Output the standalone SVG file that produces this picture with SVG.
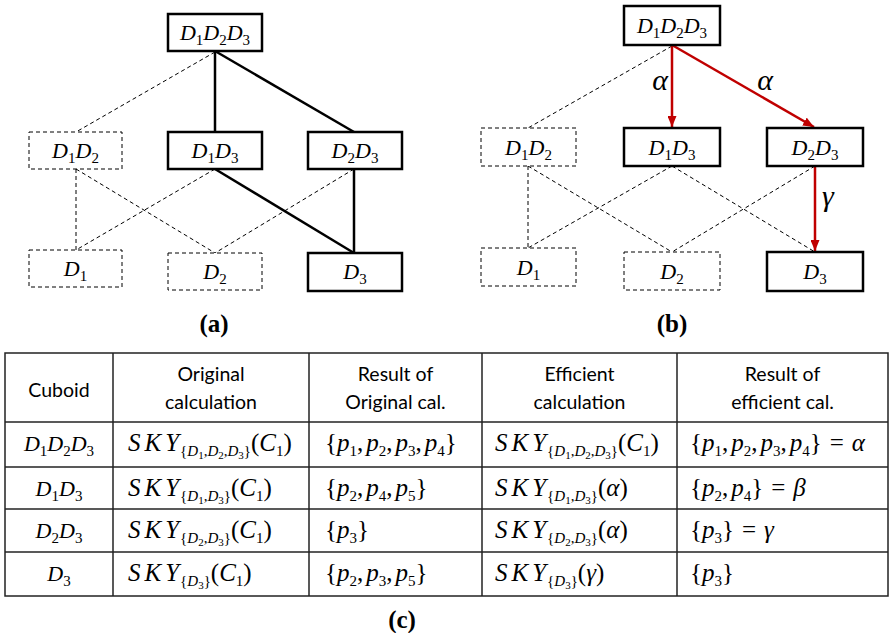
<svg xmlns="http://www.w3.org/2000/svg" width="889" height="633" viewBox="0 0 889 633">
<style>
.m{font-family:"Liberation Serif","DejaVu Serif",serif;font-size:22px;fill:#000}
.t{font-size:25px}
.i{font-style:italic}
.s{font-size:15px}
.ss{font-size:11px}
.h{font-family:"Lato","Liberation Sans",sans-serif;font-size:19.5px;text-anchor:middle;fill:#000}
.lbl{font-family:"Liberation Serif","DejaVu Serif",serif;font-size:25px;font-weight:bold;text-anchor:middle}
.gl{font-family:"Liberation Serif","DejaVu Serif",serif;font-size:30px;font-style:italic;text-anchor:middle}
.box{fill:#fff;stroke:#000;stroke-width:2.5}
.dbox{fill:#fff;stroke:#000;stroke-width:1;stroke-dasharray:4 3}
.sl{stroke:#000;stroke-width:2.5;fill:none}
.dl{stroke:#000;stroke-width:1;stroke-dasharray:4 3;fill:none}
.red{stroke:#c00000;stroke-width:2.5;fill:none;marker-end:url(#ah)}
.grid{stroke:#222;stroke-width:1.5;fill:none}
</style>
<defs>
<marker id="ah" markerWidth="11" markerHeight="9" refX="11" refY="4.5" orient="auto" markerUnits="userSpaceOnUse">
<path d="M0,0 L11,4.5 L0,9 Z" fill="#c00000"/>
</marker>
</defs>
<rect width="889" height="633" fill="#fff"/>

<g id="connectors">
<line class="dl" x1="215" y1="52" x2="76" y2="132"/>
<line class="sl" x1="215" y1="51" x2="215" y2="132"/>
<line class="sl" x1="215" y1="51" x2="354" y2="132"/>
<line class="dl" x1="76" y1="169" x2="76" y2="250"/>
<line class="dl" x1="76" y1="169" x2="215" y2="253"/>
<line class="dl" x1="215" y1="169" x2="76" y2="250"/>
<line class="sl" x1="215" y1="169" x2="354" y2="253"/>
<line class="dl" x1="354" y1="169" x2="215" y2="253"/>
<line class="sl" x1="354" y1="169" x2="354" y2="253"/>

<line class="dl" x1="672" y1="46" x2="528" y2="128"/>
<line class="red" x1="672" y1="45" x2="672" y2="127"/>
<line class="red" x1="672" y1="45" x2="814" y2="127"/>
<line class="dl" x1="528" y1="166" x2="528" y2="248"/>
<line class="dl" x1="528" y1="166" x2="672" y2="252"/>
<line class="dl" x1="672" y1="166" x2="528" y2="248"/>
<line class="dl" x1="672" y1="166" x2="815" y2="252"/>
<line class="dl" x1="815" y1="166" x2="672" y2="252"/>
<line class="red" x1="815" y1="166" x2="815" y2="251"/>
<text class="gl" x="660" y="90">α</text>
<text class="gl" x="765" y="90">α</text>
<text class="gl" x="828" y="206">γ</text>
</g>

<g id="a-D1D2D3"><rect class="box" x="168" y="14" width="94" height="37"/>
<text class="m" x="215" y="40" text-anchor="middle"><tspan class="i">D</tspan><tspan class="s" dy="5">1</tspan><tspan class="i" dy="-5">D</tspan><tspan class="s" dy="5">2</tspan><tspan class="i" dy="-5">D</tspan><tspan class="s" dy="5">3</tspan></text></g>
<g id="a-D1D2"><rect class="dbox" x="29" y="132" width="93" height="37"/>
<text class="m" x="75.5" y="158" text-anchor="middle"><tspan class="i">D</tspan><tspan class="s" dy="5">1</tspan><tspan class="i" dy="-5">D</tspan><tspan class="s" dy="5">2</tspan></text></g>
<g id="a-D1D3"><rect class="box" x="168" y="132" width="94" height="37"/>
<text class="m" x="215" y="158" text-anchor="middle"><tspan class="i">D</tspan><tspan class="s" dy="5">1</tspan><tspan class="i" dy="-5">D</tspan><tspan class="s" dy="5">3</tspan></text></g>
<g id="a-D2D3"><rect class="box" x="308" y="132" width="94" height="37"/>
<text class="m" x="355" y="158" text-anchor="middle"><tspan class="i">D</tspan><tspan class="s" dy="5">2</tspan><tspan class="i" dy="-5">D</tspan><tspan class="s" dy="5">3</tspan></text></g>
<g id="a-D1"><rect class="dbox" x="29" y="250" width="93" height="37"/>
<text class="m" x="75.5" y="276" text-anchor="middle"><tspan class="i">D</tspan><tspan class="s" dy="5">1</tspan></text></g>
<g id="a-D2"><rect class="dbox" x="168" y="253" width="94" height="37"/>
<text class="m" x="215" y="279" text-anchor="middle"><tspan class="i">D</tspan><tspan class="s" dy="5">2</tspan></text></g>
<g id="a-D3"><rect class="box" x="308" y="253" width="94" height="38"/>
<text class="m" x="355" y="279" text-anchor="middle"><tspan class="i">D</tspan><tspan class="s" dy="5">3</tspan></text></g>
<text class="lbl" x="214" y="332">(a)</text>

<g id="b-D1D2D3"><rect class="box" x="624" y="6" width="96" height="39"/>
<text class="m" x="672" y="33" text-anchor="middle"><tspan class="i">D</tspan><tspan class="s" dy="5">1</tspan><tspan class="i" dy="-5">D</tspan><tspan class="s" dy="5">2</tspan><tspan class="i" dy="-5">D</tspan><tspan class="s" dy="5">3</tspan></text></g>
<g id="b-D1D2"><rect class="dbox" x="481" y="128" width="95" height="38"/>
<text class="m" x="528.5" y="155" text-anchor="middle"><tspan class="i">D</tspan><tspan class="s" dy="5">1</tspan><tspan class="i" dy="-5">D</tspan><tspan class="s" dy="5">2</tspan></text></g>
<g id="b-D1D3"><rect class="box" x="624" y="128" width="96" height="38"/>
<text class="m" x="672" y="155" text-anchor="middle"><tspan class="i">D</tspan><tspan class="s" dy="5">1</tspan><tspan class="i" dy="-5">D</tspan><tspan class="s" dy="5">3</tspan></text></g>
<g id="b-D2D3"><rect class="box" x="767" y="128" width="96" height="38"/>
<text class="m" x="815" y="155" text-anchor="middle"><tspan class="i">D</tspan><tspan class="s" dy="5">2</tspan><tspan class="i" dy="-5">D</tspan><tspan class="s" dy="5">3</tspan></text></g>
<g id="b-D1"><rect class="dbox" x="481" y="248" width="95" height="38"/>
<text class="m" x="528.5" y="275" text-anchor="middle"><tspan class="i">D</tspan><tspan class="s" dy="5">1</tspan></text></g>
<g id="b-D2"><rect class="dbox" x="624" y="252" width="96" height="38"/>
<text class="m" x="672" y="279" text-anchor="middle"><tspan class="i">D</tspan><tspan class="s" dy="5">2</tspan></text></g>
<g id="b-D3"><rect class="box" x="767" y="252" width="96" height="39"/>
<text class="m" x="815" y="279" text-anchor="middle"><tspan class="i">D</tspan><tspan class="s" dy="5">3</tspan></text></g>
<text class="lbl" x="672" y="332">(b)</text>

<g id="table">
<rect class="grid" x="5" y="353" width="883" height="243"/>
<line class="grid" x1="5" y1="422" x2="888" y2="422"/>
<line class="grid" x1="5" y1="467" x2="888" y2="467"/>
<line class="grid" x1="5" y1="509" x2="888" y2="509"/>
<line class="grid" x1="5" y1="552" x2="888" y2="552"/>
<line class="grid" x1="113" y1="353" x2="113" y2="596"/>
<line class="grid" x1="309" y1="353" x2="309" y2="596"/>
<line class="grid" x1="482" y1="353" x2="482" y2="596"/>
<line class="grid" x1="677" y1="353" x2="677" y2="596"/>

<text class="h" x="59" y="397">Cuboid</text>
<text class="h" x="211" y="381">Original</text>
<text class="h" x="211" y="409">calculation</text>
<text class="h" x="395.5" y="381">Result of</text>
<text class="h" x="395.5" y="409">Original cal.</text>
<text class="h" x="579.5" y="381">Efficient</text>
<text class="h" x="579.5" y="409">calculation</text>
<text class="h" x="782.5" y="381">Result of</text>
<text class="h" x="782.5" y="409">efficient cal.</text>

<!-- row 1 -->
<text class="m" x="59" y="451" text-anchor="middle"><tspan class="i">D</tspan><tspan class="s" dy="5">1</tspan><tspan class="i" dy="-5">D</tspan><tspan class="s" dy="5">2</tspan><tspan class="i" dy="-5">D</tspan><tspan class="s" dy="5">3</tspan></text>
<text class="m t" x="128" y="451"><tspan class="i">S</tspan><tspan class="i" dx="4">K</tspan><tspan class="i" dx="4">Y</tspan><tspan class="s" dy="5" dx="1">{</tspan><tspan class="s i">D</tspan><tspan class="ss" dy="3">1</tspan><tspan class="s" dy="-3">,</tspan><tspan class="s i">D</tspan><tspan class="ss" dy="3">2</tspan><tspan class="s" dy="-3">,</tspan><tspan class="s i">D</tspan><tspan class="ss" dy="3">3</tspan><tspan class="s" dy="-3">}</tspan><tspan dy="-5">(</tspan><tspan class="i">C</tspan><tspan class="s" dy="5">1</tspan><tspan dy="-5">)</tspan></text>
<text class="m t" x="325" y="451">{<tspan class="i">p</tspan><tspan class="s" dy="5">1</tspan><tspan dy="-5">,</tspan><tspan class="i" dx="3">p</tspan><tspan class="s" dy="5">2</tspan><tspan dy="-5">,</tspan><tspan class="i" dx="3">p</tspan><tspan class="s" dy="5">3</tspan><tspan dy="-5">,</tspan><tspan class="i" dx="3">p</tspan><tspan class="s" dy="5">4</tspan><tspan dy="-5">}</tspan></text>
<text class="m t" x="495" y="451"><tspan class="i">S</tspan><tspan class="i" dx="4">K</tspan><tspan class="i" dx="4">Y</tspan><tspan class="s" dy="5" dx="1">{</tspan><tspan class="s i">D</tspan><tspan class="ss" dy="3">1</tspan><tspan class="s" dy="-3">,</tspan><tspan class="s i">D</tspan><tspan class="ss" dy="3">2</tspan><tspan class="s" dy="-3">,</tspan><tspan class="s i">D</tspan><tspan class="ss" dy="3">3</tspan><tspan class="s" dy="-3">}</tspan><tspan dy="-5">(</tspan><tspan class="i">C</tspan><tspan class="s" dy="5">1</tspan><tspan dy="-5">)</tspan></text>
<text class="m t" x="690" y="451">{<tspan class="i">p</tspan><tspan class="s" dy="5">1</tspan><tspan dy="-5">,</tspan><tspan class="i" dx="3">p</tspan><tspan class="s" dy="5">2</tspan><tspan dy="-5">,</tspan><tspan class="i" dx="3">p</tspan><tspan class="s" dy="5">3</tspan><tspan dy="-5">,</tspan><tspan class="i" dx="3">p</tspan><tspan class="s" dy="5">4</tspan><tspan dy="-5">}</tspan><tspan dx="8">=</tspan><tspan class="i" dx="8">α</tspan></text>

<!-- row 2 -->
<text class="m" x="59" y="496" text-anchor="middle"><tspan class="i">D</tspan><tspan class="s" dy="5">1</tspan><tspan class="i" dy="-5">D</tspan><tspan class="s" dy="5">3</tspan></text>
<text class="m t" x="128" y="496"><tspan class="i">S</tspan><tspan class="i" dx="4">K</tspan><tspan class="i" dx="4">Y</tspan><tspan class="s" dy="5" dx="1">{</tspan><tspan class="s i">D</tspan><tspan class="ss" dy="3">1</tspan><tspan class="s" dy="-3">,</tspan><tspan class="s i">D</tspan><tspan class="ss" dy="3">3</tspan><tspan class="s" dy="-3">}</tspan><tspan dy="-5">(</tspan><tspan class="i">C</tspan><tspan class="s" dy="5">1</tspan><tspan dy="-5">)</tspan></text>
<text class="m t" x="325" y="496">{<tspan class="i">p</tspan><tspan class="s" dy="5">2</tspan><tspan dy="-5">,</tspan><tspan class="i" dx="3">p</tspan><tspan class="s" dy="5">4</tspan><tspan dy="-5">,</tspan><tspan class="i" dx="3">p</tspan><tspan class="s" dy="5">5</tspan><tspan dy="-5">}</tspan></text>
<text class="m t" x="495" y="496"><tspan class="i">S</tspan><tspan class="i" dx="4">K</tspan><tspan class="i" dx="4">Y</tspan><tspan class="s" dy="5" dx="1">{</tspan><tspan class="s i">D</tspan><tspan class="ss" dy="3">1</tspan><tspan class="s" dy="-3">,</tspan><tspan class="s i">D</tspan><tspan class="ss" dy="3">3</tspan><tspan class="s" dy="-3">}</tspan><tspan dy="-5">(</tspan><tspan class="i">α</tspan>)</text>
<text class="m t" x="690" y="496">{<tspan class="i">p</tspan><tspan class="s" dy="5">2</tspan><tspan dy="-5">,</tspan><tspan class="i" dx="3">p</tspan><tspan class="s" dy="5">4</tspan><tspan dy="-5">}</tspan><tspan dx="8">=</tspan><tspan class="i" dx="8">β</tspan></text>

<!-- row 3 -->
<text class="m" x="59" y="538" text-anchor="middle"><tspan class="i">D</tspan><tspan class="s" dy="5">2</tspan><tspan class="i" dy="-5">D</tspan><tspan class="s" dy="5">3</tspan></text>
<text class="m t" x="128" y="538"><tspan class="i">S</tspan><tspan class="i" dx="4">K</tspan><tspan class="i" dx="4">Y</tspan><tspan class="s" dy="5" dx="1">{</tspan><tspan class="s i">D</tspan><tspan class="ss" dy="3">2</tspan><tspan class="s" dy="-3">,</tspan><tspan class="s i">D</tspan><tspan class="ss" dy="3">3</tspan><tspan class="s" dy="-3">}</tspan><tspan dy="-5">(</tspan><tspan class="i">C</tspan><tspan class="s" dy="5">1</tspan><tspan dy="-5">)</tspan></text>
<text class="m t" x="325" y="538">{<tspan class="i">p</tspan><tspan class="s" dy="5">3</tspan><tspan dy="-5">}</tspan></text>
<text class="m t" x="495" y="538"><tspan class="i">S</tspan><tspan class="i" dx="4">K</tspan><tspan class="i" dx="4">Y</tspan><tspan class="s" dy="5" dx="1">{</tspan><tspan class="s i">D</tspan><tspan class="ss" dy="3">2</tspan><tspan class="s" dy="-3">,</tspan><tspan class="s i">D</tspan><tspan class="ss" dy="3">3</tspan><tspan class="s" dy="-3">}</tspan><tspan dy="-5">(</tspan><tspan class="i">α</tspan>)</text>
<text class="m t" x="690" y="538">{<tspan class="i">p</tspan><tspan class="s" dy="5">3</tspan><tspan dy="-5">}</tspan><tspan dx="8">=</tspan><tspan class="i" dx="8">γ</tspan></text>

<!-- row 4 -->
<text class="m" x="59" y="581" text-anchor="middle"><tspan class="i">D</tspan><tspan class="s" dy="5">3</tspan></text>
<text class="m t" x="128" y="581"><tspan class="i">S</tspan><tspan class="i" dx="4">K</tspan><tspan class="i" dx="4">Y</tspan><tspan class="s" dy="5" dx="1">{</tspan><tspan class="s i">D</tspan><tspan class="ss" dy="3">3</tspan><tspan class="s" dy="-3">}</tspan><tspan dy="-5">(</tspan><tspan class="i">C</tspan><tspan class="s" dy="5">1</tspan><tspan dy="-5">)</tspan></text>
<text class="m t" x="325" y="581">{<tspan class="i">p</tspan><tspan class="s" dy="5">2</tspan><tspan dy="-5">,</tspan><tspan class="i" dx="3">p</tspan><tspan class="s" dy="5">3</tspan><tspan dy="-5">,</tspan><tspan class="i" dx="3">p</tspan><tspan class="s" dy="5">5</tspan><tspan dy="-5">}</tspan></text>
<text class="m t" x="495" y="581"><tspan class="i">S</tspan><tspan class="i" dx="4">K</tspan><tspan class="i" dx="4">Y</tspan><tspan class="s" dy="5" dx="1">{</tspan><tspan class="s i">D</tspan><tspan class="ss" dy="3">3</tspan><tspan class="s" dy="-3">}</tspan><tspan dy="-5">(</tspan><tspan class="i">γ</tspan>)</text>
<text class="m t" x="690" y="581">{<tspan class="i">p</tspan><tspan class="s" dy="5">3</tspan><tspan dy="-5">}</tspan></text>
</g>
<text class="lbl" x="402" y="628">(c)</text>
</svg>
